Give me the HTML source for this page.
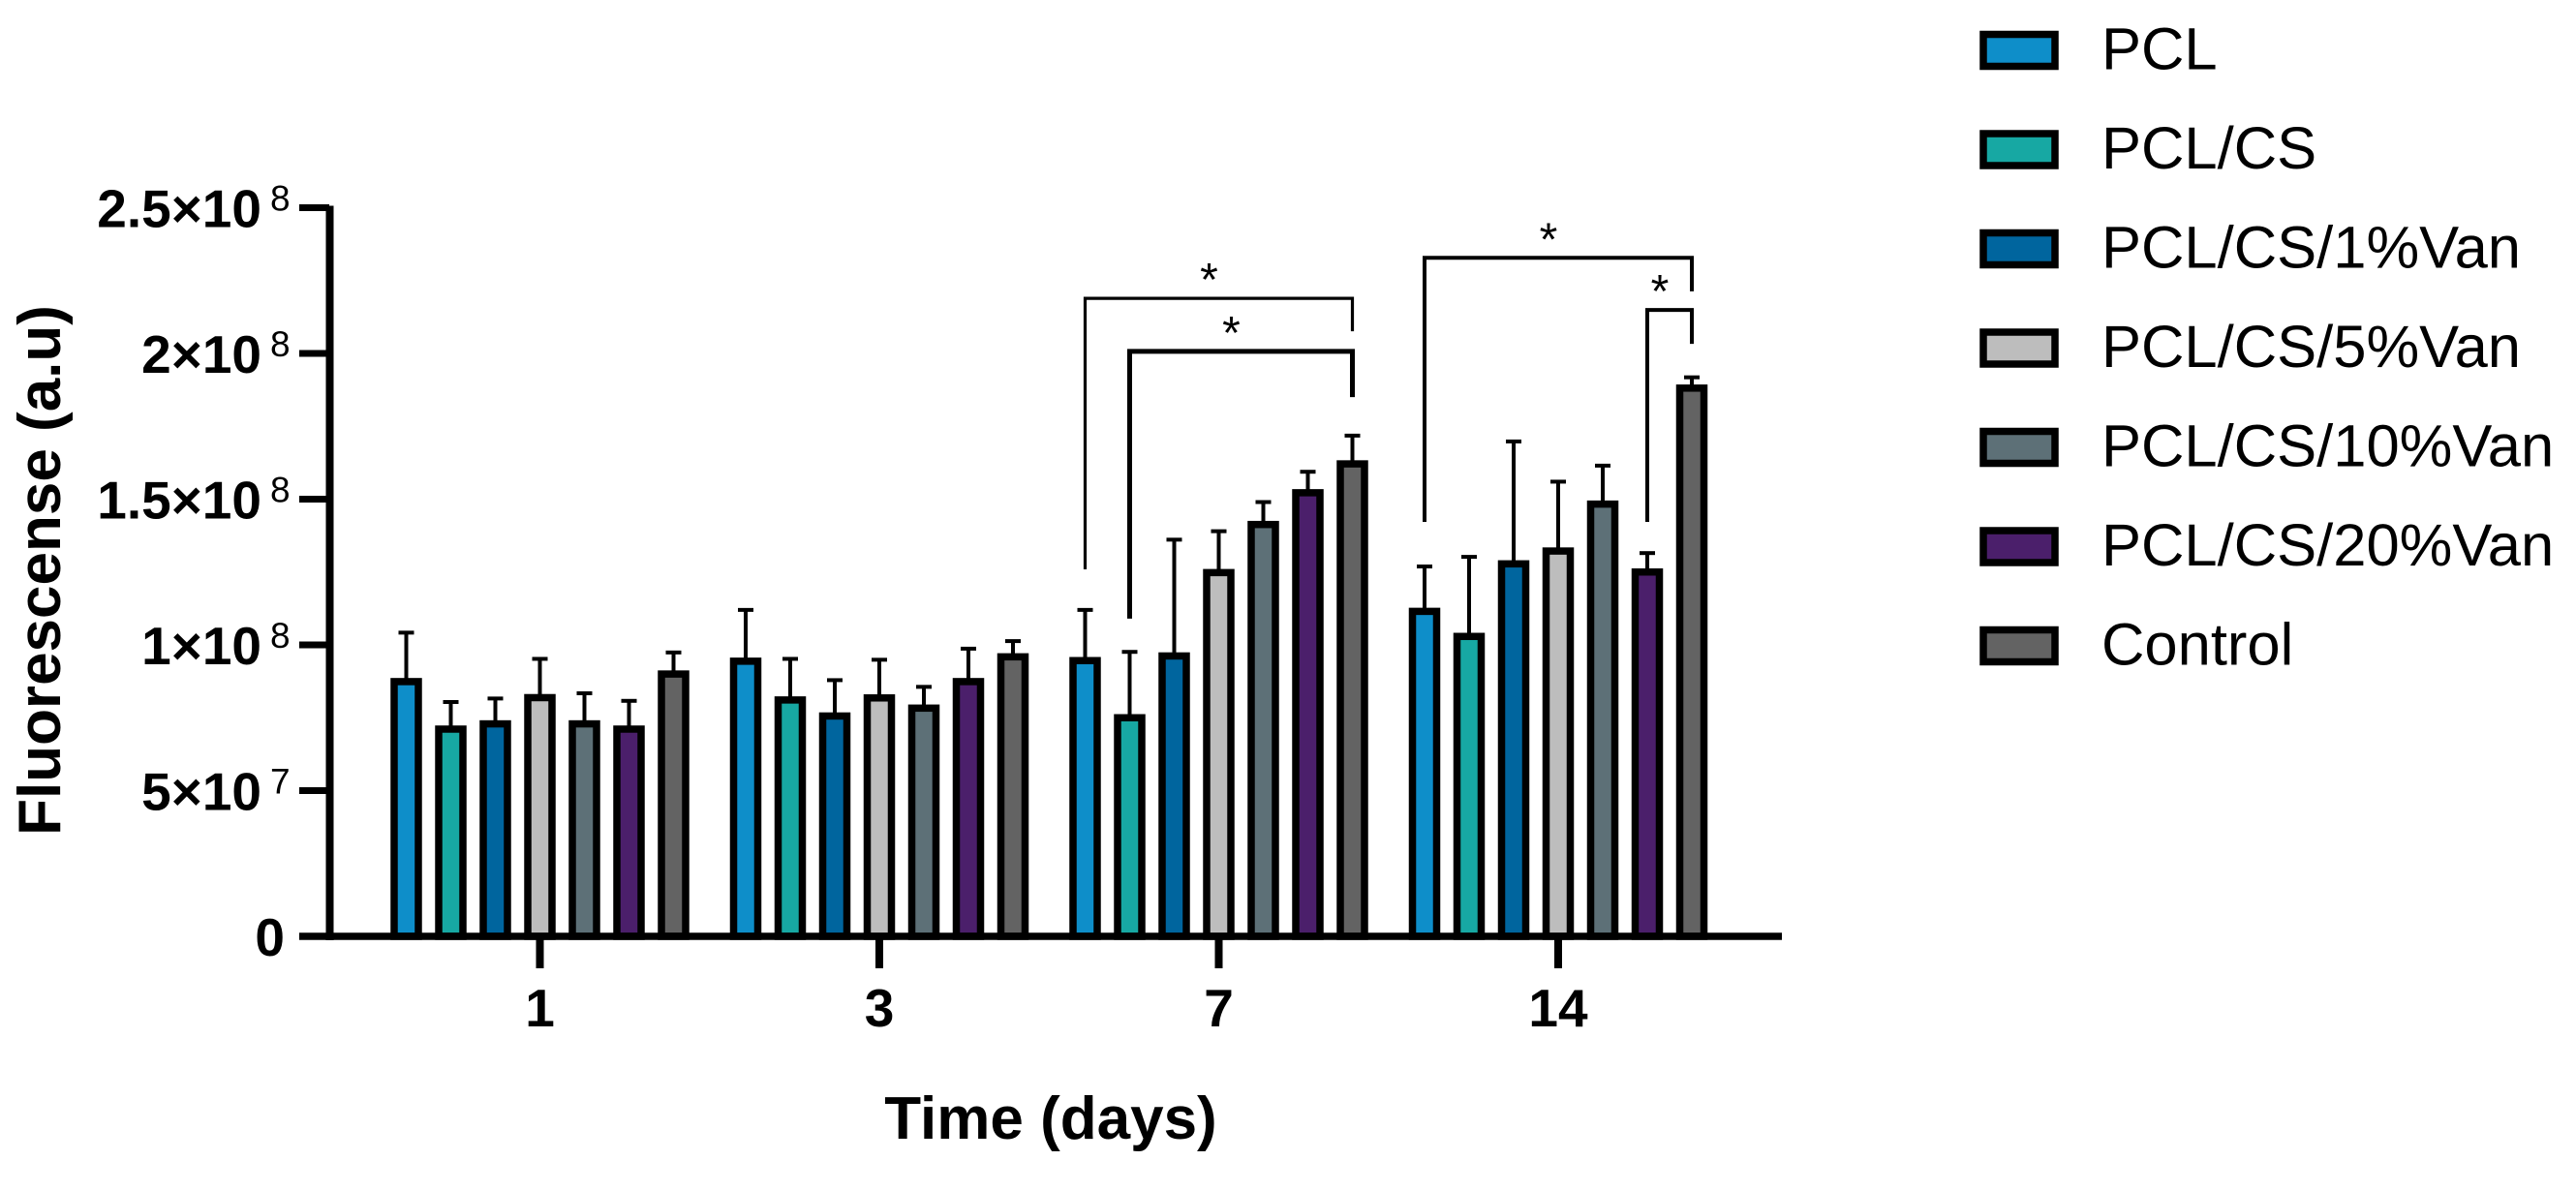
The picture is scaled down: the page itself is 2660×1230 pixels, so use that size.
<!DOCTYPE html>
<html>
<head>
<meta charset="utf-8">
<title>Fluorescence over time</title>
<style>
html,body{margin:0;padding:0;background:#fff;}
svg{display:block;}
text{font-family:"Liberation Sans",Arial,sans-serif;fill:#000;}
</style>
</head>
<body>
<svg id="chart" xmlns="http://www.w3.org/2000/svg" width="2660" height="1230" viewBox="0 0 2660 1230">
<rect x="0" y="0" width="2660" height="1230" fill="#fff"/>
</svg>
<script>
// Values in units of 1e6 a.u.
const categories = ["1", "3", "7", "14"];
const seriesNames = ["PCL", "PCL/CS", "PCL/CS/1%Van", "PCL/CS/5%Van", "PCL/CS/10%Van", "PCL/CS/20%Van", "Control"];
const seriesColors = ["#0e8ec9", "#17a8a3", "#00659e", "#bdbdbd", "#5d7077", "#4b1f6b", "#636363"];

const meanPCL = [87.4, 94.4, 94.6, 111.5];
const meanCS = [71.1, 81.1, 75.0, 102.9];
const meanVan1 = [72.9, 75.6, 96.2, 127.8];
const meanVan5 = [81.9, 81.8, 124.8, 132.2];
const meanVan10 = [72.9, 78.3, 141.3, 148.3];
const meanVan20 = [71.1, 87.4, 152.2, 125.0];
const meanControl = [90.0, 95.9, 162.1, 188.1];

const errPCL = [16.8, 17.6, 17.4, 15.4];
const errCS = [9.3, 14.1, 22.6, 27.3];
const errVan1 = [8.7, 12.3, 39.9, 42.0];
const errVan5 = [13.3, 13.1, 14.2, 23.8];
const errVan10 = [10.5, 7.3, 7.7, 13.2];
const errVan20 = [9.7, 11.3, 7.2, 6.5];
const errControl = [7.4, 5.4, 9.7, 3.7];

const seriesMeans = [meanPCL, meanCS, meanVan1, meanVan5, meanVan10, meanVan20, meanControl];
const seriesErrors = [errPCL, errCS, errVan1, errVan5, errVan10, errVan20, errControl];

const yTickValues = [0, 50, 100, 150, 200, 250];
const yTickMantissas = ["0", "5\u00d710", "1\u00d710", "1.5\u00d710", "2\u00d710", "2.5\u00d710"];
const yTickExponents = ["", "7", "8", "8", "8", "8"];

// Significance brackets: category index, left series, right series, level and drop ends in data units
const bracketCategory = [2, 2, 3, 3];
const bracketLeftSeries = [0, 1, 0, 5];
const bracketRightSeries = [6, 6, 6, 6];
const bracketLevel = [218.9, 200.7, 232.8, 214.9];
const bracketLeftEnd = [125.9, 109.0, 142.2, 142.2];
const bracketRightEnd = [207.6, 185.0, 221.3, 203.3];
const bracketLabels = ["*", "*", "*", "*"];
const bracketStroke = [3.2, 5, 4, 4];

const NS = "http://www.w3.org/2000/svg";
const svg = document.getElementById("chart");

function yScale(v) { return 967 - 3.01 * v; }
function xGroup(i) { return 557.5 + 350.5 * i; }
function xBar(g, s) { return xGroup(g) + 46 * (s - 3); }

function make(tag, attrs) {
  const el = document.createElementNS(NS, tag);
  for (const k in attrs) el.setAttribute(k, attrs[k]);
  svg.appendChild(el);
  return el;
}
function line(x1, y1, x2, y2, w) {
  return make("line", { x1: x1, y1: y1, x2: x2, y2: y2, stroke: "#000", "stroke-width": w });
}

// Error bars (behind bars)
seriesMeans.forEach(function (vals, s) {
  vals.forEach(function (v, g) {
    const x = xBar(g, s);
    const top = yScale(v + seriesErrors[s][g]);
    const stem = line(x, yScale(v), x, top, 4);
    
    
    const cap = line(x - 8, top, x + 8, top, 4);
    
    
  });
});

// Bars
seriesMeans.forEach(function (vals, s) {
  vals.forEach(function (v, g) {
    const y = yScale(v);
    const bar = make("rect", {
      x: xBar(g, s) - 12.5, y: y, width: 25, height: yScale(0) - y,
      fill: seriesColors[s], stroke: "#000", "stroke-width": 7.5
    });
    
    
  });
});

// Axes
const yAxis = line(340.5, yScale(250) - 2, 340.5, yScale(0) + 4, 8);


const xAxis = line(309, yScale(0), 1840, yScale(0), 7.5);



yTickValues.forEach(function (v, i) {
  const y = yScale(v);
  const t = line(309, y, 340, y, 7);
  
  
  const hasExp = yTickExponents[i] !== "";
  const lab = make("text", {
    x: hasExp ? 270 : 294, y: y + 20, "text-anchor": "end",
    "font-size": 55, "font-weight": "bold"
  });
  lab.textContent = yTickMantissas[i];
  
  
  if (hasExp) {
    const ex = make("text", { x: 279, y: y + 3, "font-size": 37 });
    ex.textContent = yTickExponents[i];
    
    
  }
});

categories.forEach(function (c, g) {
  const x = xGroup(g);
  const t = line(x, yScale(0), x, 1000, 8);
  
  
  const lab = make("text", {
    x: x, y: 1060, "text-anchor": "middle", "font-size": 55, "font-weight": "bold"
  });
  lab.textContent = c;
  
  
});

// Axis titles
const xTitle = make("text", {
  x: 1085, y: 1176, "text-anchor": "middle", "font-size": 62, "font-weight": "bold"
});
xTitle.textContent = "Time (days)";



const yTitle = make("text", {
  transform: "translate(62,589) rotate(-90)", x: 0, y: 0,
  "text-anchor": "middle", "font-size": 62, "font-weight": "bold"
});
yTitle.textContent = "Fluorescense (a.u)";



// Significance brackets
bracketCategory.forEach(function (g, i) {
  const xl = xBar(g, bracketLeftSeries[i]);
  const xr = xBar(g, bracketRightSeries[i]);
  const yTop = yScale(bracketLevel[i]);
  const b = make("path", {
    d: "M" + xl + " " + yScale(bracketLeftEnd[i]) + " V" + yTop + " H" + xr + " V" + yScale(bracketRightEnd[i]),
    fill: "none", stroke: "#000", "stroke-width": bracketStroke[i]
  });
  
  
  const star = make("text", {
    x: (xl + xr) / 2 - 10, y: yTop - 3, "text-anchor": "middle", "font-size": 48
  });
  star.textContent = bracketLabels[i];
  
  
});

// Legend
seriesNames.forEach(function (name, s) {
  const top = 32 + 102.5 * s;
  const sw = make("rect", {
    x: 2048, y: top + 3.5, width: 74, height: 33,
    fill: seriesColors[s], stroke: "#000", "stroke-width": 7.5
  });
  
  
  const t = make("text", { x: 2170, y: top + 39.5, "font-size": 61.5 });
  t.textContent = name;
  
  
});
</script>
</body>
</html>
